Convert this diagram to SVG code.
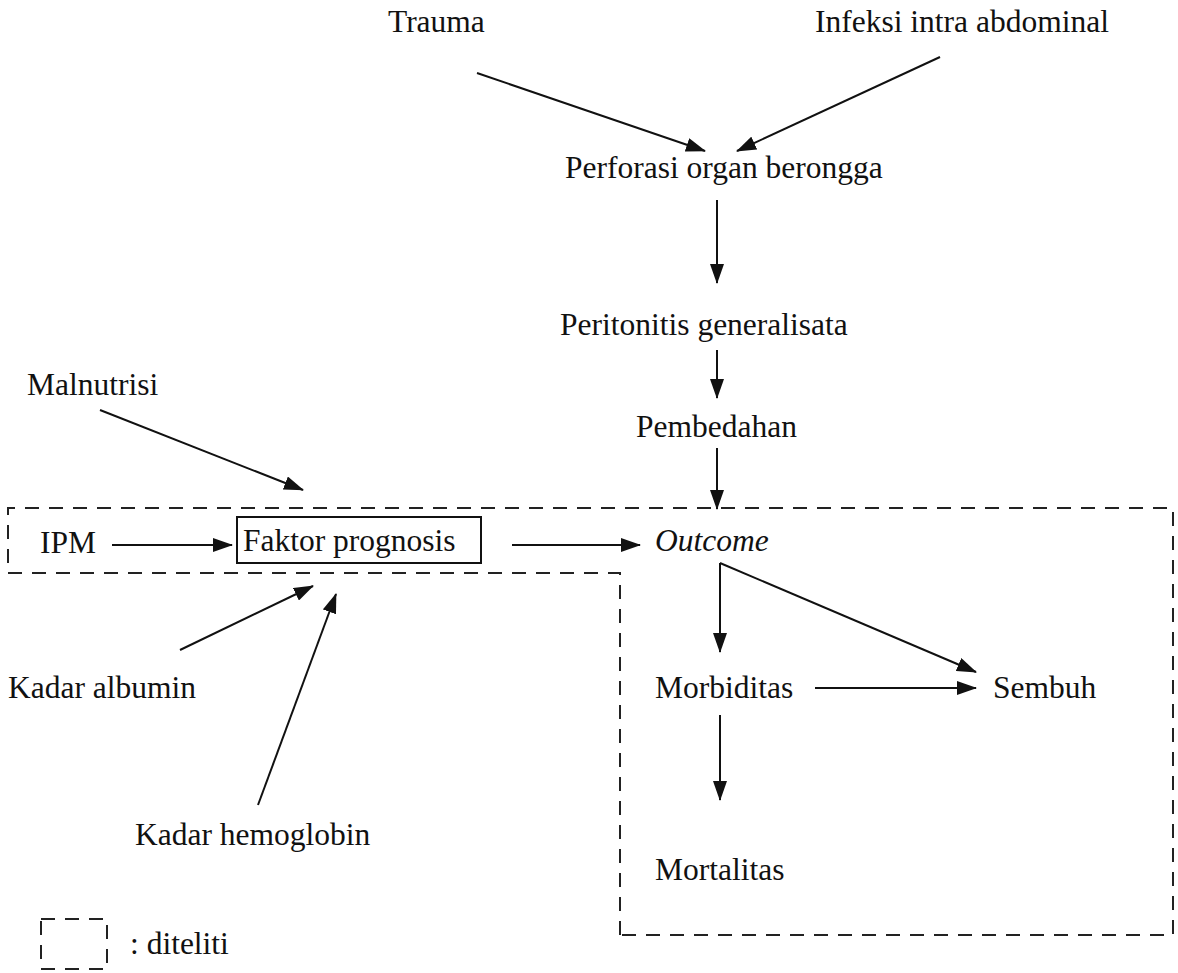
<svg xmlns="http://www.w3.org/2000/svg" width="1178" height="973" viewBox="0 0 1178 973">
<style>
text{font-family:"Liberation Serif","Times New Roman",serif;font-size:31.5px;fill:#111}
.c line{stroke:#111;stroke-width:2;fill:none}
.dash{stroke:#222;stroke-width:2;fill:none;stroke-dasharray:14 10}
.box{stroke:#111;stroke-width:2;fill:none}
</style>
<defs>
<marker id="ah" markerUnits="userSpaceOnUse" markerWidth="20" markerHeight="14" refX="19" refY="7" orient="auto">
<path d="M0,0 L20,7 L0,14 Z" fill="#111"/>
</marker>
</defs>
<rect width="1178" height="973" fill="#fff"/>
<g id="region">
<path class="dash" d="M620 935 L620 573 L8 573 L8 508 L1173 508 L1173 935 Z"/>
</g>
<g id="trauma"><text x="388" y="32">Trauma</text></g>
<g id="infeksi"><text x="815" y="32">Infeksi intra abdominal</text></g>
<g id="perforasi"><text x="565" y="178">Perforasi organ berongga</text></g>
<g id="peritonitis"><text x="560" y="335">Peritonitis generalisata</text></g>
<g id="pembedahan"><text x="636" y="437">Pembedahan</text></g>
<g id="ipm"><text x="40" y="553">IPM</text></g>
<g id="faktor"><rect class="box" x="237" y="517" width="244" height="46"/><text x="243" y="551">Faktor prognosis</text></g>
<g id="outcome"><text x="655" y="551" font-style="italic">Outcome</text></g>
<g id="morbiditas"><text x="655" y="698">Morbiditas</text></g>
<g id="sembuh"><text x="993" y="698">Sembuh</text></g>
<g id="mortalitas"><text x="655" y="880">Mortalitas</text></g>
<g id="malnutrisi"><text x="27" y="395">Malnutrisi</text></g>
<g id="albumin"><text x="8" y="698">Kadar albumin</text></g>
<g id="hemoglobin"><text x="135" y="845">Kadar hemoglobin</text></g>
<g id="legend"><rect class="dash" x="41" y="919" width="66" height="50" stroke-dasharray="10 8"/><text x="130" y="954">: diteliti</text></g>
<g class="c" id="connectors">
<line x1="477" y1="73" x2="705" y2="151" marker-end="url(#ah)"/>
<line x1="940" y1="57" x2="737" y2="151" marker-end="url(#ah)"/>
<line x1="717" y1="200" x2="717" y2="283" marker-end="url(#ah)"/>
<line x1="717" y1="350" x2="717" y2="398" marker-end="url(#ah)"/>
<line x1="717" y1="448" x2="717" y2="509" marker-end="url(#ah)"/>
<line x1="112" y1="545" x2="232" y2="545" marker-end="url(#ah)"/>
<line x1="512" y1="545" x2="640" y2="545" marker-end="url(#ah)"/>
<line x1="100" y1="410" x2="303" y2="490" marker-end="url(#ah)"/>
<line x1="180" y1="650" x2="313" y2="586" marker-end="url(#ah)"/>
<line x1="258" y1="805" x2="336" y2="594" marker-end="url(#ah)"/>
<line x1="720" y1="563" x2="720" y2="652" marker-end="url(#ah)"/>
<line x1="720" y1="563" x2="976" y2="672" marker-end="url(#ah)"/>
<line x1="815" y1="688" x2="976" y2="688" marker-end="url(#ah)"/>
<line x1="720" y1="715" x2="720" y2="800" marker-end="url(#ah)"/>
</g>
</svg>
